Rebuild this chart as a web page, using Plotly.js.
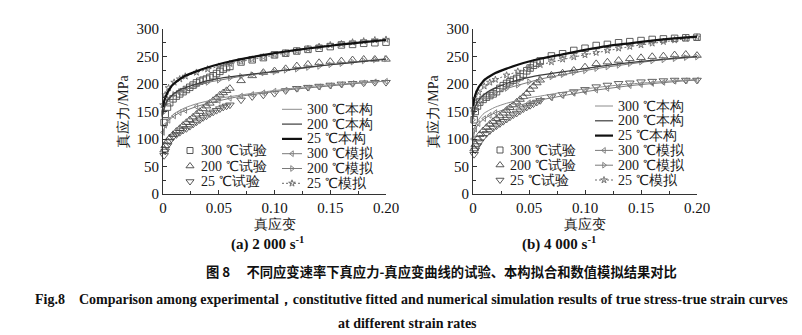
<!DOCTYPE html>
<html><head><meta charset="utf-8">
<script src="https://cdn.plot.ly/plotly-3.0.1.min.js"></script>
<style>html,body{margin:0;padding:0;background:#fff}#chart{width:802px;height:335px}</style>
</head><body><div id="chart"></div>
<script>
const W = 802, H = 335;

// ---------- data ----------
// constitutive fitted curves
const fitStrain = [0, 0.001, 0.002, 0.004, 0.006, 0.008, 0.01, 0.015, 0.02, 0.03, 0.04, 0.05, 0.06, 0.08, 0.10, 0.12, 0.14, 0.16, 0.18, 0.20];
const fitA25  = [158, 168, 175, 184, 191, 197, 201, 209, 215, 223, 230, 236, 241, 249, 256, 262, 267, 272, 276, 280];
const fitA200 = [145, 156, 162, 170, 175, 179, 183, 189, 193, 200, 206, 210, 213, 218, 223, 228, 233, 237, 241, 245];
const fitA300 = [108, 118, 124, 132, 138, 142, 146, 152, 157, 164, 169, 174, 177, 183, 188, 193, 197, 200, 203, 205];
const fitB25  = [160, 172, 180, 190, 197, 202, 207, 214, 220, 228, 235, 241, 246, 254, 262, 269, 274, 279, 283, 286];
const fitB200 = [140, 152, 159, 167, 173, 177, 181, 188, 193, 201, 207, 212, 216, 222, 228, 234, 239, 243, 247, 250];
const fitB300 = [105, 117, 124, 132, 138, 143, 147, 153, 158, 165, 170, 175, 178, 185, 191, 196, 200, 203, 206, 208];

// numerical simulation curves
const simStrain = [0, 0.002, 0.005, 0.01, 0.015, 0.02, 0.03, 0.04, 0.05, 0.06, 0.07, 0.08, 0.09, 0.10, 0.11, 0.12, 0.13, 0.14, 0.15, 0.16, 0.17, 0.18, 0.19, 0.20];
const simA25  = [162, 180, 193, 203, 209, 214, 221, 227, 232, 237, 241, 245, 249, 253, 256, 260, 264, 268, 271, 273, 276, 278, 280, 281];
const simA200 = [148, 163, 172, 181, 186, 190, 197, 203, 207, 211, 214, 217, 220, 222, 225, 227, 230, 232, 235, 237, 240, 242, 244, 246];
const simA300 = [112, 125, 134, 142, 148, 152, 159, 165, 170, 174, 178, 181, 184, 187, 189, 191, 193, 195, 197, 199, 201, 202, 204, 205];
const simB25  = [155, 172, 185, 196, 203, 208, 216, 223, 229, 235, 240, 245, 249, 253, 257, 261, 265, 268, 271, 274, 277, 280, 283, 285];
const simB200 = [135, 152, 163, 173, 179, 184, 192, 198, 204, 209, 213, 217, 221, 224, 228, 231, 234, 237, 240, 242, 244, 246, 248, 249];
const simB300 = [100, 118, 128, 137, 143, 148, 155, 161, 166, 171, 175, 179, 183, 186, 189, 192, 195, 197, 199, 201, 203, 205, 206, 207];

// experimental data
const expStrain = [0.001, 0.002, 0.004, 0.006, 0.009, 0.012, 0.015, 0.018, 0.021, 0.024, 0.027, 0.030, 0.033, 0.036, 0.039, 0.042, 0.045, 0.048, 0.051, 0.054, 0.057, 0.060,
                   0.07, 0.08, 0.09, 0.10, 0.11, 0.12, 0.13, 0.14, 0.15, 0.16, 0.17, 0.18, 0.19, 0.20];
const expA300 = [130, 145, 158, 166, 173, 178, 182, 186, 190, 194, 198, 202, 205, 207, 209, 212, 215, 219, 223, 227, 230, 232,
                 240, 244, 248, 253, 256, 260, 263, 265, 268, 271, 272, 274, 275, 276];
const expA200 = [80, 88, 96, 102, 108, 114, 119, 125, 130, 135, 140, 145, 150, 155, 160, 165, 170, 175, 180, 184, 188, 192,
                 206, 215, 221, 224, 228, 233, 236, 239, 241, 242, 244, 245, 245, 245];
const expA25  = [70, 78, 88, 96, 104, 108, 112, 116, 119, 123, 127, 131, 135, 139, 142, 146, 149, 152, 155, 158, 160, 162,
                 171, 177, 180, 183, 188, 192, 194, 196, 198, 200, 201, 202, 203, 203];
const expB300 = [135, 150, 160, 167, 172, 176, 179, 182, 186, 192, 197, 201, 204, 207, 210, 213, 218, 224, 229, 234, 238, 242,
                 251, 255, 261, 265, 270, 272, 275, 277, 279, 281, 282, 283, 284, 285];
const expB200 = [82, 90, 100, 108, 115, 121, 127, 132, 137, 142, 147, 152, 157, 162, 167, 172, 177, 183, 190, 196, 202, 207,
                 216, 220, 225, 231, 237, 240, 243, 246, 248, 250, 251, 253, 254, 252];
const expB25  = [72, 80, 88, 95, 103, 110, 115, 120, 124, 128, 132, 136, 140, 144, 147, 151, 155, 158, 161, 164, 167, 170,
                 177, 181, 186, 190, 195, 198, 201, 202, 204, 205, 206, 207, 207, 207];

// axis ticks & labels
const xTickVals = [0, 0.05, 0.10, 0.15, 0.20];
const xTickText = ['0', '0.05', '0.10', '0.15', '0.20'];
const yTickVals = [0, 50, 100, 150, 200, 250, 300];
const xTitle = '真应变';
const yTitle = '真应力/MPa';
const panelTitles = ['<b>(a) 2 000 s<sup>-1</sup></b>', '<b>(b) 4 000 s<sup>-1</sup></b>'];
const expLabels = ['300 ℃试验', '200 ℃试验', '25 ℃试验'];
const lineLabels = ['300 ℃本构', '200 ℃本构', '25 ℃本构', '300 ℃模拟', '200 ℃模拟', '25 ℃模拟'];
const captionCn = '<b>图 8　 不同应变速率下真应力-真应变曲线的试验、本构拟合和数值模拟结果对比</b>';
const captionEn1 = '<b>Fig.8　Comparison among experimental，constitutive fitted and numerical simulation results of true stress-true strain curves</b>';
const captionEn2 = '<b>at different strain rates</b>';

// ---------- styles ----------
const SERIF = 'Liberation Serif';
const expStyles = [
  {symbol: 'square-open', size: 6.5},
  {symbol: 'triangle-up-open', size: 7.5},
  {symbol: 'triangle-down-open', size: 7.5}
];
const expColor = '#454545';
const fitStyles = [
  {color: '#8c8c8c', width: 1.0, dash: 'solid'},
  {color: '#3c3c3c', width: 1.2, dash: 'solid'},
  {color: '#111111', width: 2.2, dash: 'solid'}
];
const simStyles = [
  {color: '#7a7a7a', width: 1.0, dash: 'solid', symbol: 'triangle-left-open', size: 5},
  {color: '#7a7a7a', width: 1.0, dash: 'solid', symbol: 'triangle-right-open', size: 5},
  {color: '#6a6a6a', width: 1.0, dash: '2px,2px', symbol: 'star-open', size: 5}
];

const panels = [
  {xa: 'x', ya: 'y', exp: [expA300, expA200, expA25], fit: [fitA300, fitA200, fitA25], sim: [simA300, simA200, simA25]},
  {xa: 'x2', ya: 'y2', exp: [expB300, expB200, expB25], fit: [fitB300, fitB200, fitB25], sim: [simB300, simB200, simB25]}
];

const traces = [];
panels.forEach(p => {
  p.exp.forEach((ys, i) => traces.push({
    type: 'scatter', mode: 'markers', x: expStrain, y: ys, xaxis: p.xa, yaxis: p.ya,
    name: expLabels[i], showlegend: false, cliponaxis: false,
    marker: {symbol: expStyles[i].symbol, size: expStyles[i].size, color: expColor, line: {width: 0.85, color: expColor}}
  }));
  p.sim.forEach((ys, i) => traces.push({
    type: 'scatter', mode: 'lines+markers', x: simStrain, y: ys, xaxis: p.xa, yaxis: p.ya,
    name: lineLabels[3 + i], showlegend: false, cliponaxis: false,
    line: {color: simStyles[i].color, width: simStyles[i].width, dash: simStyles[i].dash},
    marker: {symbol: simStyles[i].symbol, size: simStyles[i].size, color: simStyles[i].color, line: {width: 0.9, color: simStyles[i].color}}
  }));
  p.fit.forEach((ys, i) => traces.push({
    type: 'scatter', mode: 'lines', x: fitStrain, y: ys, xaxis: p.xa, yaxis: p.ya,
    name: lineLabels[i], showlegend: false, line: {color: fitStyles[i].color, width: fitStyles[i].width, shape: 'spline', smoothing: 0.6}
  }));
});

// ---------- hand-placed legends drawn on a pixel-unit overlay axis ----------
const legendBoxes = [
  {expX: 190, expTextX: 199, expY0: 150.5, expGap: 15.5, lineX0: 282, lineX1: 302, lineTextX: 305, lineY0: 109.3, lineGap: 14.8},
  {expX: 500, expTextX: 508, expY0: 150, expGap: 15, lineX0: 595, lineX1: 613, lineTextX: 616, lineY0: 106, lineGap: 14.8}
];
const annotations = [];
const legendFont = {family: SERIF, size: 14, color: '#1a1a1a'};
legendBoxes.forEach(L => {
  expLabels.forEach((lab, i) => {
    const y = L.expY0 + i * L.expGap;
    traces.push({type: 'scatter', mode: 'markers', x: [L.expX], y: [y], xaxis: 'x3', yaxis: 'y3', showlegend: false, hoverinfo: 'skip',
      marker: {symbol: expStyles[i].symbol, size: expStyles[i].size - 0.5, color: expColor, line: {width: 0.9, color: expColor}}});
    annotations.push({xref: 'x3', yref: 'y3', x: L.expTextX, y: y, text: lab, showarrow: false, xanchor: 'left', yanchor: 'middle', font: legendFont});
  });
  lineLabels.forEach((lab, i) => {
    const y = L.lineY0 + i * L.lineGap;
    const st = i < 3 ? fitStyles[i] : simStyles[i - 3];
    traces.push({type: 'scatter', mode: 'lines', x: [L.lineX0, L.lineX1], y: [y, y], xaxis: 'x3', yaxis: 'y3', showlegend: false, hoverinfo: 'skip',
      line: {color: st.color, width: st.width, dash: st.dash}});
    if (i >= 3) {
      traces.push({type: 'scatter', mode: 'markers', x: [(L.lineX0 + L.lineX1) / 2], y: [y], xaxis: 'x3', yaxis: 'y3', showlegend: false, hoverinfo: 'skip',
        marker: {symbol: st.symbol, size: st.size, color: st.color, line: {width: 0.9, color: st.color}}});
    }
    annotations.push({xref: 'x3', yref: 'y3', x: L.lineTextX, y: y, text: lab, showarrow: false, xanchor: 'left', yanchor: 'middle', font: legendFont});
  });
});

// ---------- axes ----------
const plotBoxes = [
  {left: 163, right: 386, top: 29, bottom: 194, titleCx: 267},
  {left: 473, right: 697, top: 29, bottom: 194, titleCx: 559}
];
const tickFont = {family: SERIF, size: 15, color: '#111'};
const titleFont = {family: SERIF, size: 14, color: '#1a1a1a'};
function xAxis(b) {
  return {domain: [b.left / W, b.right / W], range: [0, 0.2], tickvals: xTickVals, ticktext: xTickText,
    ticks: 'inside', ticklen: 4, tickwidth: 1, tickcolor: '#333', showline: true, linecolor: '#333', linewidth: 1,
    showgrid: false, zeroline: false, tickfont: tickFont, fixedrange: true,
    title: {text: xTitle, font: titleFont, standoff: 4},
    minor: {dtick: 0.025, tick0: 0, ticks: 'inside', ticklen: 3, tickcolor: '#333', showgrid: false}};
}
function yAxis(b, anchor) {
  return {domain: [1 - b.bottom / H, 1 - b.top / H], range: [0, 300], tickvals: yTickVals, anchor: anchor,
    ticks: 'inside', ticklen: 4, tickwidth: 1, tickcolor: '#333', showline: true, linecolor: '#333', linewidth: 1,
    showgrid: false, zeroline: false, tickfont: tickFont, fixedrange: true,
    title: {text: yTitle, font: titleFont, standoff: 4},
    minor: {dtick: 25, tick0: 0, ticks: 'inside', ticklen: 3, tickcolor: '#333', showgrid: false}};
}

plotBoxes.forEach((b, k) => {
  annotations.push({xref: 'paper', yref: 'paper', x: b.titleCx / W, y: 1 - 243 / H, text: panelTitles[k], showarrow: false,
    xanchor: 'center', yanchor: 'middle', font: {family: SERIF, size: 15, color: '#111'}});
});
annotations.push({xref: 'paper', yref: 'paper', x: 441 / W, y: 1 - 271 / H, text: captionCn, showarrow: false,
  xanchor: 'center', yanchor: 'middle', font: {family: 'Noto Sans CJK SC', size: 13.3, color: '#111'}});
annotations.push({xref: 'paper', yref: 'paper', x: 411 / W, y: 1 - 299 / H, text: captionEn1, showarrow: false,
  xanchor: 'center', yanchor: 'middle', font: {family: SERIF, size: 14, color: '#111'}});
annotations.push({xref: 'paper', yref: 'paper', x: 408 / W, y: 1 - 323 / H, text: captionEn2, showarrow: false,
  xanchor: 'center', yanchor: 'middle', font: {family: SERIF, size: 14, color: '#111'}});

const layout = {
  width: W, height: H, margin: {l: 0, r: 0, t: 0, b: 0}, paper_bgcolor: '#fff', plot_bgcolor: 'rgba(0,0,0,0)',
  showlegend: false, font: {family: SERIF, color: '#222'},
  xaxis: Object.assign(xAxis(plotBoxes[0]), {anchor: 'y'}), yaxis: yAxis(plotBoxes[0], 'x'),
  xaxis2: Object.assign(xAxis(plotBoxes[1]), {anchor: 'y2'}), yaxis2: yAxis(plotBoxes[1], 'x2'),
  xaxis3: {domain: [0, 1], range: [0, W], visible: false, fixedrange: true, anchor: 'y3'},
  yaxis3: {domain: [0, 1], range: [H, 0], visible: false, fixedrange: true, anchor: 'x3'},
  annotations: annotations
};

Plotly.newPlot('chart', traces, layout, {staticPlot: true, displayModeBar: false});
</script></body></html>
